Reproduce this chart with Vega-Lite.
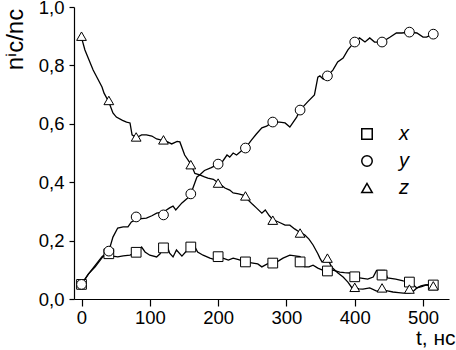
{
  "$schema": "https://vega.github.io/schema/vega-lite/v6.json",
  "width": 375,
  "height": 292,
  "autosize": {"type": "none"},
  "padding": {"left": 74, "top": 7, "right": 7, "bottom": 51},
  "background": "white",
  "config": {
    "view": {"stroke": null},
    "font": "Liberation Sans",
    "axis": {"domainColor": "black", "tickColor": "black", "labelColor": "black", "titleColor": "black", "grid": false, "domainWidth": 1.2, "tickWidth": 1.2, "labelFont": "Liberation Sans", "titleFont": "Liberation Sans", "labelFontSize": 18.5, "titleFontWeight": "normal"}
  },
  "datasets": {
    "lines": [
      {"s": "z", "t": 0, "v": 0.895}, {"s": "z", "t": 5, "v": 0.853}, {"s": "z", "t": 17, "v": 0.784}, {"s": "z", "t": 30, "v": 0.726}, {"s": "z", "t": 33, "v": 0.705}, {"s": "z", "t": 40, "v": 0.675}, {"s": "z", "t": 46, "v": 0.637}, {"s": "z", "t": 51, "v": 0.623}, {"s": "z", "t": 60, "v": 0.612}, {"s": "z", "t": 66, "v": 0.606}, {"s": "z", "t": 71, "v": 0.603}, {"s": "z", "t": 74, "v": 0.562}, {"s": "z", "t": 80, "v": 0.552}, {"s": "z", "t": 88, "v": 0.562}, {"s": "z", "t": 95, "v": 0.562}, {"s": "z", "t": 103, "v": 0.558}, {"s": "z", "t": 110, "v": 0.548}, {"s": "z", "t": 120, "v": 0.542}, {"s": "z", "t": 126, "v": 0.538}, {"s": "z", "t": 132, "v": 0.531}, {"s": "z", "t": 140, "v": 0.54}, {"s": "z", "t": 144, "v": 0.538}, {"s": "z", "t": 151, "v": 0.493}, {"s": "z", "t": 160, "v": 0.462}, {"s": "z", "t": 166, "v": 0.43}, {"s": "z", "t": 173, "v": 0.425}, {"s": "z", "t": 180, "v": 0.418}, {"s": "z", "t": 185, "v": 0.414}, {"s": "z", "t": 193, "v": 0.41}, {"s": "z", "t": 200, "v": 0.398}, {"s": "z", "t": 210, "v": 0.38}, {"s": "z", "t": 217, "v": 0.373}, {"s": "z", "t": 222, "v": 0.363}, {"s": "z", "t": 230, "v": 0.36}, {"s": "z", "t": 238, "v": 0.355}, {"s": "z", "t": 244, "v": 0.339}, {"s": "z", "t": 250, "v": 0.325}, {"s": "z", "t": 256, "v": 0.312}, {"s": "z", "t": 264, "v": 0.294}, {"s": "z", "t": 269, "v": 0.305}, {"s": "z", "t": 275, "v": 0.285}, {"s": "z", "t": 280, "v": 0.272}, {"s": "z", "t": 290, "v": 0.262}, {"s": "z", "t": 298, "v": 0.253}, {"s": "z", "t": 305, "v": 0.253}, {"s": "z", "t": 312, "v": 0.24}, {"s": "z", "t": 320, "v": 0.228}, {"s": "z", "t": 327, "v": 0.219}, {"s": "z", "t": 333, "v": 0.205}, {"s": "z", "t": 339, "v": 0.185}, {"s": "z", "t": 346, "v": 0.155}, {"s": "z", "t": 349, "v": 0.14}, {"s": "z", "t": 352, "v": 0.127}, {"s": "z", "t": 360, "v": 0.14}, {"s": "z", "t": 366, "v": 0.11}, {"s": "z", "t": 375, "v": 0.09}, {"s": "z", "t": 383, "v": 0.075}, {"s": "z", "t": 390, "v": 0.058}, {"s": "z", "t": 396, "v": 0.038}, {"s": "z", "t": 400, "v": 0.04}, {"s": "z", "t": 406, "v": 0.035}, {"s": "z", "t": 412, "v": 0.034}, {"s": "z", "t": 422, "v": 0.038}, {"s": "z", "t": 432, "v": 0.027}, {"s": "z", "t": 440, "v": 0.03}, {"s": "z", "t": 448, "v": 0.028}, {"s": "z", "t": 456, "v": 0.024}, {"s": "z", "t": 464, "v": 0.022}, {"s": "z", "t": 471, "v": 0.02}, {"s": "z", "t": 480, "v": 0.02}, {"s": "z", "t": 485, "v": 0.025}, {"s": "z", "t": 491, "v": 0.038}, {"s": "z", "t": 498, "v": 0.042}, {"s": "z", "t": 505, "v": 0.048}, {"s": "z", "t": 515, "v": 0.045},
      {"s": "x", "t": 0, "v": 0.05}, {"s": "x", "t": 10, "v": 0.085}, {"s": "x", "t": 20, "v": 0.11}, {"s": "x", "t": 31, "v": 0.144}, {"s": "x", "t": 40, "v": 0.152}, {"s": "x", "t": 46, "v": 0.147}, {"s": "x", "t": 53, "v": 0.144}, {"s": "x", "t": 61, "v": 0.148}, {"s": "x", "t": 71, "v": 0.15}, {"s": "x", "t": 80, "v": 0.16}, {"s": "x", "t": 85, "v": 0.17}, {"s": "x", "t": 88, "v": 0.178}, {"s": "x", "t": 93, "v": 0.161}, {"s": "x", "t": 100, "v": 0.15}, {"s": "x", "t": 110, "v": 0.144}, {"s": "x", "t": 115, "v": 0.155}, {"s": "x", "t": 120, "v": 0.178}, {"s": "x", "t": 126, "v": 0.178}, {"s": "x", "t": 129, "v": 0.157}, {"s": "x", "t": 134, "v": 0.144}, {"s": "x", "t": 139, "v": 0.168}, {"s": "x", "t": 147, "v": 0.147}, {"s": "x", "t": 152, "v": 0.16}, {"s": "x", "t": 160, "v": 0.178}, {"s": "x", "t": 166, "v": 0.178}, {"s": "x", "t": 170, "v": 0.161}, {"s": "x", "t": 178, "v": 0.15}, {"s": "x", "t": 188, "v": 0.14}, {"s": "x", "t": 195, "v": 0.135}, {"s": "x", "t": 200, "v": 0.14}, {"s": "x", "t": 207, "v": 0.14}, {"s": "x", "t": 215, "v": 0.133}, {"s": "x", "t": 222, "v": 0.14}, {"s": "x", "t": 230, "v": 0.135}, {"s": "x", "t": 240, "v": 0.127}, {"s": "x", "t": 251, "v": 0.123}, {"s": "x", "t": 258, "v": 0.12}, {"s": "x", "t": 264, "v": 0.11}, {"s": "x", "t": 272, "v": 0.12}, {"s": "x", "t": 280, "v": 0.123}, {"s": "x", "t": 288, "v": 0.13}, {"s": "x", "t": 295, "v": 0.14}, {"s": "x", "t": 305, "v": 0.15}, {"s": "x", "t": 315, "v": 0.147}, {"s": "x", "t": 320, "v": 0.145}, {"s": "x", "t": 323, "v": 0.115}, {"s": "x", "t": 327, "v": 0.11}, {"s": "x", "t": 333, "v": 0.11}, {"s": "x", "t": 339, "v": 0.116}, {"s": "x", "t": 346, "v": 0.106}, {"s": "x", "t": 352, "v": 0.1}, {"s": "x", "t": 360, "v": 0.096}, {"s": "x", "t": 368, "v": 0.099}, {"s": "x", "t": 378, "v": 0.092}, {"s": "x", "t": 385, "v": 0.09}, {"s": "x", "t": 393, "v": 0.089}, {"s": "x", "t": 400, "v": 0.08}, {"s": "x", "t": 407, "v": 0.072}, {"s": "x", "t": 419, "v": 0.068}, {"s": "x", "t": 427, "v": 0.075}, {"s": "x", "t": 432, "v": 0.098}, {"s": "x", "t": 444, "v": 0.098}, {"s": "x", "t": 448, "v": 0.072}, {"s": "x", "t": 460, "v": 0.068}, {"s": "x", "t": 471, "v": 0.062}, {"s": "x", "t": 480, "v": 0.058}, {"s": "x", "t": 485, "v": 0.05}, {"s": "x", "t": 491, "v": 0.038}, {"s": "x", "t": 497, "v": 0.045}, {"s": "x", "t": 503, "v": 0.048}, {"s": "x", "t": 515, "v": 0.05},
      {"s": "y", "t": 0, "v": 0.05}, {"s": "y", "t": 10, "v": 0.085}, {"s": "y", "t": 20, "v": 0.115}, {"s": "y", "t": 30, "v": 0.145}, {"s": "y", "t": 40, "v": 0.164}, {"s": "y", "t": 46, "v": 0.212}, {"s": "y", "t": 53, "v": 0.243}, {"s": "y", "t": 61, "v": 0.247}, {"s": "y", "t": 68, "v": 0.247}, {"s": "y", "t": 73, "v": 0.264}, {"s": "y", "t": 80, "v": 0.272}, {"s": "y", "t": 88, "v": 0.275}, {"s": "y", "t": 95, "v": 0.277}, {"s": "y", "t": 103, "v": 0.285}, {"s": "y", "t": 110, "v": 0.294}, {"s": "y", "t": 120, "v": 0.298}, {"s": "y", "t": 129, "v": 0.312}, {"s": "y", "t": 134, "v": 0.318}, {"s": "y", "t": 138, "v": 0.305}, {"s": "y", "t": 147, "v": 0.329}, {"s": "y", "t": 155, "v": 0.345}, {"s": "y", "t": 160, "v": 0.36}, {"s": "y", "t": 169, "v": 0.418}, {"s": "y", "t": 173, "v": 0.425}, {"s": "y", "t": 180, "v": 0.44}, {"s": "y", "t": 190, "v": 0.45}, {"s": "y", "t": 200, "v": 0.462}, {"s": "y", "t": 205, "v": 0.466}, {"s": "y", "t": 213, "v": 0.493}, {"s": "y", "t": 217, "v": 0.486}, {"s": "y", "t": 222, "v": 0.5}, {"s": "y", "t": 227, "v": 0.493}, {"s": "y", "t": 233, "v": 0.505}, {"s": "y", "t": 240, "v": 0.517}, {"s": "y", "t": 249, "v": 0.545}, {"s": "y", "t": 256, "v": 0.565}, {"s": "y", "t": 264, "v": 0.586}, {"s": "y", "t": 271, "v": 0.592}, {"s": "y", "t": 280, "v": 0.606}, {"s": "y", "t": 290, "v": 0.606}, {"s": "y", "t": 298, "v": 0.603}, {"s": "y", "t": 305, "v": 0.589}, {"s": "y", "t": 315, "v": 0.623}, {"s": "y", "t": 320, "v": 0.647}, {"s": "y", "t": 331, "v": 0.675}, {"s": "y", "t": 341, "v": 0.699}, {"s": "y", "t": 346, "v": 0.76}, {"s": "y", "t": 349, "v": 0.764}, {"s": "y", "t": 354, "v": 0.753}, {"s": "y", "t": 360, "v": 0.764}, {"s": "y", "t": 368, "v": 0.784}, {"s": "y", "t": 375, "v": 0.812}, {"s": "y", "t": 383, "v": 0.825}, {"s": "y", "t": 390, "v": 0.853}, {"s": "y", "t": 396, "v": 0.87}, {"s": "y", "t": 400, "v": 0.88}, {"s": "y", "t": 407, "v": 0.894}, {"s": "y", "t": 415, "v": 0.88}, {"s": "y", "t": 422, "v": 0.894}, {"s": "y", "t": 429, "v": 0.88}, {"s": "y", "t": 440, "v": 0.88}, {"s": "y", "t": 452, "v": 0.897}, {"s": "y", "t": 461, "v": 0.911}, {"s": "y", "t": 469, "v": 0.911}, {"s": "y", "t": 480, "v": 0.914}, {"s": "y", "t": 491, "v": 0.911}, {"s": "y", "t": 500, "v": 0.897}, {"s": "y", "t": 505, "v": 0.897}, {"s": "y", "t": 515, "v": 0.907}
    ],
    "markers": [
      {"s": "x", "t": 0, "v": 0.05}, {"s": "x", "t": 40, "v": 0.155}, {"s": "x", "t": 80, "v": 0.16}, {"s": "x", "t": 120, "v": 0.175}, {"s": "x", "t": 160, "v": 0.178}, {"s": "x", "t": 200, "v": 0.145}, {"s": "x", "t": 240, "v": 0.127}, {"s": "x", "t": 280, "v": 0.123}, {"s": "x", "t": 320, "v": 0.127}, {"s": "x", "t": 360, "v": 0.096}, {"s": "x", "t": 400, "v": 0.076}, {"s": "x", "t": 440, "v": 0.082}, {"s": "x", "t": 480, "v": 0.058}, {"s": "x", "t": 515, "v": 0.048},
      {"s": "y", "t": 0, "v": 0.05}, {"s": "y", "t": 40, "v": 0.164}, {"s": "y", "t": 80, "v": 0.281}, {"s": "y", "t": 120, "v": 0.288}, {"s": "y", "t": 160, "v": 0.36}, {"s": "y", "t": 200, "v": 0.462}, {"s": "y", "t": 240, "v": 0.517}, {"s": "y", "t": 280, "v": 0.606}, {"s": "y", "t": 320, "v": 0.647}, {"s": "y", "t": 360, "v": 0.764}, {"s": "y", "t": 400, "v": 0.88}, {"s": "y", "t": 440, "v": 0.88}, {"s": "y", "t": 480, "v": 0.914}, {"s": "y", "t": 515, "v": 0.907},
      {"s": "z", "t": 0, "v": 0.9}, {"s": "z", "t": 40, "v": 0.68}, {"s": "z", "t": 80, "v": 0.555}, {"s": "z", "t": 120, "v": 0.545}, {"s": "z", "t": 160, "v": 0.46}, {"s": "z", "t": 200, "v": 0.397}, {"s": "z", "t": 240, "v": 0.353}, {"s": "z", "t": 280, "v": 0.27}, {"s": "z", "t": 320, "v": 0.226}, {"s": "z", "t": 360, "v": 0.14}, {"s": "z", "t": 400, "v": 0.04}, {"s": "z", "t": 440, "v": 0.038}, {"s": "z", "t": 480, "v": 0.034}, {"s": "z", "t": 515, "v": 0.045}
    ]
  },
  "layer": [
    {
      "data": {"name": "lines"},
      "mark": {"type": "line", "color": "black", "strokeWidth": 1.3},
      "encoding": {
        "x": {
          "field": "t", "type": "quantitative",
          "scale": {"domain": [-11, 538], "nice": false, "zero": false},
          "axis": {
            "values": [0, 50, 100, 150, 200, 250, 300, 350, 400, 450, 500],
            "labelExpr": "datum.value % 100 === 0 ? datum.label : ''",
            "tickSize": {"condition": {"test": "datum.value % 100 === 0", "value": 7}, "value": 3},
            "labelPadding": 2,
            "title": "t, нс",
            "titleFontSize": 21,
            "titleAnchor": "end",
            "titleAlign": "right",
            "titleBaseline": "alphabetic",
            "titleX": 381,
            "titleY": 45
          }
        },
        "y": {
          "field": "v", "type": "quantitative",
          "scale": {"domain": [0, 1], "nice": false},
          "axis": {
            "values": [0, 0.1, 0.2, 0.3, 0.4, 0.5, 0.6, 0.7, 0.8, 0.9, 1.0],
            "labelExpr": "round(datum.value * 10) % 2 === 0 ? replace(format(datum.value, '.1f'), '.', ',') : ''",
            "tickSize": {"condition": {"test": "round(datum.value * 10) % 2 === 0", "value": 5}, "value": 3},
            "labelPadding": 5,
            "title": "nⁱc/nc",
            "titleFontSize": 24,
            "titleAngle": -90,
            "titleAlign": "center",
            "titleBaseline": "middle",
            "titleX": -59,
            "titleY": 32
          }
        },
        "detail": {"field": "s"},
        "order": {"field": "t"}
      }
    },
    {
      "data": {"name": "markers"},
      "mark": {"type": "point", "color": "black", "fill": "white", "filled": false, "strokeWidth": 1, "opacity": 1, "size": 95},
      "encoding": {
        "x": {"field": "t", "type": "quantitative"},
        "y": {"field": "v", "type": "quantitative"},
        "shape": {
          "field": "s", "type": "nominal",
          "scale": {"domain": ["x", "y", "z"], "range": ["square", "circle", "triangle-up"]},
          "legend": {
            "title": null,
            "orient": "none",
            "legendX": 283,
            "legendY": 117,
            "symbolSize": 110,
            "labelFont": "Liberation Sans",
            "labelFontSize": 20,
            "labelFontStyle": "italic",
            "labelColor": "black",
            "labelOffset": 22,
            "rowPadding": 7
          }
        }
      }
    }
  ]
}
